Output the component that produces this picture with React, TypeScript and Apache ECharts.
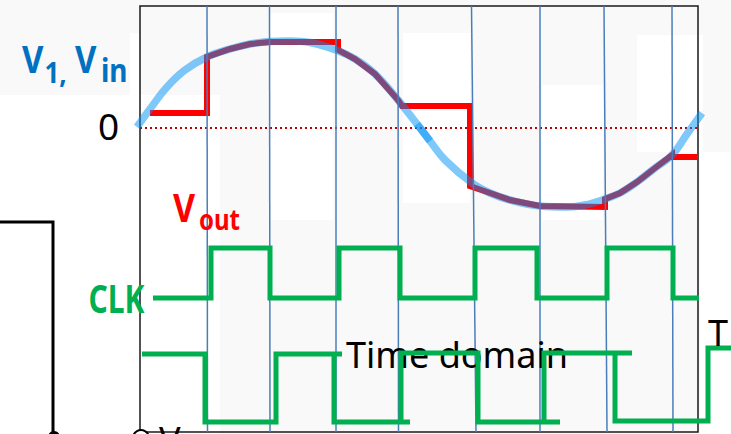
import React, { useEffect, useRef } from "react";
import * as echarts from "echarts";

// Axis ranges over the whole picture (time in arbitrary units, voltage in arbitrary units; 0 V = dotted line)
const T_MIN = -140;
const T_MAX = 591;
const V_MIN = -306;
const V_MAX = 128;

// Plot frame extent (in the same units)
const FRAME_T = [0, 558];
const FRAME_V = [-304, 122];

// Input sine wave V1 / Vin
const SINE_A_T = [-3, 10, 27, 45, 67, 90, 110, 130, 150, 170, 196, 215, 235, 258, 277, 290];
const SINE_A_V = [1, 19, 41, 58, 71, 79, 84, 86.5, 87, 85.5, 78, 69, 54, 28, 4, -13];
const SINE_B_T = [277, 290, 305, 332, 350, 370, 400, 427, 445, 465, 480, 497, 515, 532, 547, 562];
const SINE_B_V = [4, -13, -32, -55, -65, -72, -78, -79, -77, -71, -65, -54, -40, -27, -6, 15];

// Sample-and-hold output Vout
const VOUT_T = [10, 67, 67, 90, 110, 130, 198, 198, 215, 235, 258, 262, 330, 330, 350, 370, 400, 465, 465, 480, 497, 515, 532, 532, 557];
const VOUT_V = [15, 15, 71, 79, 84, 86, 86, 78, 69, 54, 28, 22, 22, -58, -65, -72, -78, -79, -71, -65, -54, -40, -27, -29, -29];

// CLK square wave
const CLK_HIGH = -120;
const CLK_LOW = -170;
const CLK_START = 13;
const CLK_EDGES = [71, 130, 199, 260, 335, 397, 467, 533];
const CLK_END = 559;

// Second (inverted) clock, drawn by hand with overshoots
const CLK2_T = [2, 65, 65, 136, 136, 202, 194, 194, 270, 261, 261, 338, 338, 420, 404, 404, 492, 475, 475, 568, 568, 595];
const CLK2_V = [-226, -226, -294, -294, -226, -226, -226, -294, -294, -294, -225, -225, -294, -294, -294, -225, -225, -225, -293, -293, -220, -220];

// Vertical clock-edge marker lines (top t, bottom t)
const EDGE_TOP_T = [67, 129.5, 196, 258, 331.5, 400, 464, 532];
const EDGE_BOT_T = [67.5, 130, 196, 258.5, 336, 400, 467, 533];

const zip = (a: number[], b: number[]) => a.map((v, i) => [v, b[i]]);

function clkPoints(): number[][] {
  const pts: number[][] = [[CLK_START, CLK_LOW]];
  let level = CLK_LOW;
  CLK_EDGES.forEach((t) => {
    pts.push([t, level]);
    level = level === CLK_LOW ? CLK_HIGH : CLK_LOW;
    pts.push([t, level]);
  });
  pts.push([CLK_END, level]);
  return pts;
}

const FONT = '"Noto Sans", "Open Sans", sans-serif';

function txt(text: string, x: number, y: number, size: number, color: string, bold: boolean, scaleY = 1, z = 20) {
  return {
    type: "text",
    x,
    y,
    scaleY,
    z,
    silent: true,
    style: {
      text,
      fill: color,
      fontSize: size,
      fontWeight: bold ? "bold" : "normal",
      fontFamily: FONT,
      align: "left",
      verticalAlign: "middle",
    },
  };
}

function rect(x: number, y: number, w: number, h: number, fill: string) {
  return { type: "rect", z: -10, silent: true, shape: { x, y, width: w, height: h }, style: { fill } };
}

export default function App() {
  const ref = useRef<HTMLDivElement>(null);
  useEffect(() => {
    const chart = echarts.init(ref.current!, undefined, { renderer: "svg" });
    const option: any = {
      animation: false,
      backgroundColor: "#f9f9f9",
      grid: [
        { left: 0, top: 0, width: 731, height: 434, show: false },
        {
          left: 140,
          top: 6,
          width: 558,
          height: 426,
          show: true,
          borderColor: "#1a1a1a",
          borderWidth: 1.5,
          backgroundColor: "transparent",
          z: 2,
        },
      ],
      xAxis: [
        { type: "value", gridIndex: 0, min: T_MIN, max: T_MAX, show: false },
        { type: "value", gridIndex: 1, min: FRAME_T[0], max: FRAME_T[1], show: false },
      ],
      yAxis: [
        { type: "value", gridIndex: 0, min: V_MIN, max: V_MAX, show: false },
        { type: "value", gridIndex: 1, min: FRAME_V[0], max: FRAME_V[1], show: false },
      ],
      series: [
        {
          type: "line",
          data: [[FRAME_T[0], 0], [FRAME_T[1], 0]],
          symbol: "none",
          silent: true,
          z: 1,
          lineStyle: { color: "#c00000", width: 2, type: [2, 3] },
        },
        {
          type: "line",
          data: zip(VOUT_T, VOUT_V),
          symbol: "none",
          silent: true,
          z: 3,
          lineStyle: { color: "#ff0000", width: 6, join: "miter", cap: "butt" },
        },
        {
          type: "line",
          data: zip(SINE_A_T, SINE_A_V),
          smooth: 0.4,
          symbol: "none",
          silent: true,
          z: 4,
          lineStyle: { color: "rgba(0,146,245,0.5)", width: 7.5 },
        },
        {
          type: "line",
          data: zip(SINE_B_T, SINE_B_V),
          smooth: 0.4,
          symbol: "none",
          silent: true,
          z: 4,
          lineStyle: { color: "rgba(0,146,245,0.5)", width: 7.5 },
        },
        {
          type: "lines",
          coordinateSystem: "cartesian2d",
          silent: true,
          z: 5,
          lineStyle: { color: "#4a7ebb", width: 1.5, opacity: 1 },
          data: EDGE_TOP_T.map((t, i) => ({ coords: [[t, FRAME_V[1]], [EDGE_BOT_T[i], FRAME_V[0]]] })),
        },
        {
          type: "line",
          data: clkPoints(),
          symbol: "none",
          silent: true,
          z: 6,
          lineStyle: { color: "#00b050", width: 5, join: "miter" },
        },
        {
          type: "line",
          data: zip(CLK2_T, CLK2_V),
          symbol: "none",
          silent: true,
          z: 6,
          lineStyle: { color: "#00b050", width: 5, join: "miter" },
        },
      ],
      graphic: [
        rect(0, 95, 220, 339, "#ffffff"),
        rect(130, 33, 10, 64, "#ffffff"),
        rect(270, 13, 63, 207, "#ffffff"),
        rect(403, 33, 67, 170, "#ffffff"),
        rect(542, 85, 61, 135, "#ffffff"),
        rect(637, 35, 66, 117, "#ffffff"),
        rect(700, 152, 31, 282, "#ffffff"),
        {
          type: "polyline",
          silent: true,
          z: 10,
          shape: { points: [[0, 222], [53, 222], [53, 436]] },
          style: { stroke: "#000", lineWidth: 3, fill: null },
        },
        { type: "circle", silent: true, z: 10, shape: { cx: 54, cy: 437, r: 6 }, style: { fill: "#000" } },
        {
          type: "circle",
          silent: true,
          z: 10,
          shape: { cx: 141, cy: 438, r: 8 },
          style: { fill: "#ffffff", stroke: "#000", lineWidth: 2 },
        },
        txt("V", 22, 59, 33, "#0070c0", true, 1.12),
        txt("1,", 44.5, 71, 26, "#0070c0", true, 1.12),
        txt("V", 75, 59, 33, "#0070c0", true, 1.12),
        txt("in", 101, 70, 28, "#0070c0", true, 1.12),
        txt("0", 98, 125.6, 37, "#000000", false, 1),
        txt("V", 173, 206.1, 34, "#ff0000", true, 1.18),
        txt("out", 199, 218.8, 24, "#ff0000", true, 1.2),
        txt("CLK", 88.5, 297.9, 30, "#00b050", true, 1.3),
        txt("Time domain", 346, 354, 36, "#000000", false, 1, 5.5),
        txt("T", 708, 332, 36, "#000000", false, 1),
        txt("V", 159, 439, 36, "#000000", false, 1),
      ],
    };
    chart.setOption(option);
    return () => chart.dispose();
  }, []);
  return <div ref={ref} style={{ position: "fixed", left: 0, top: 0, width: 731, height: 434 }} />;
}
